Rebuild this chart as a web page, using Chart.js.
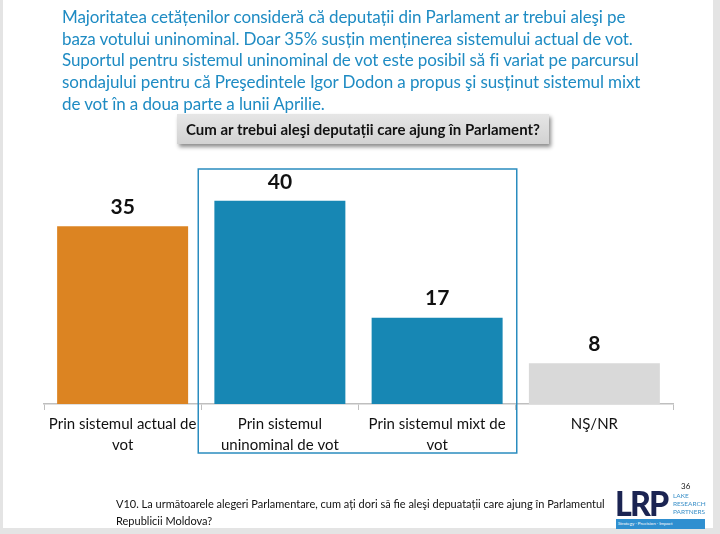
<!DOCTYPE html>
<html lang="ro">
<head>
  <meta charset="UTF-8">
  <title>Cum ar trebui aleşi deputații</title>
  <script src="https://cdn.jsdelivr.net/npm/chart.js"></script>
  <style>
    html, body { margin: 0; padding: 0; }
    body { width: 720px; height: 534px; position: relative; overflow: hidden; background: #fff; font-family: Lato, "Open Sans", sans-serif; }
    #grafic { position: absolute; left: 0; top: 0; }
    .rama-st { position: absolute; left: 0; top: 0; width: 3px; height: 534px; background: #e4e4e4; }
    .rama-dr { position: absolute; right: 0; top: 0; width: 7px; height: 534px; background: #e4e4e4; }
    .rama-jos { position: absolute; left: 0; bottom: 0; width: 720px; height: 6px; background: #e4e4e4; }
    .titlu { position: absolute; left: 62px; top: 6px; color: #1e8bc3; font-size: 17px; line-height: 21.7px; white-space: nowrap; letter-spacing: -0.1px; }
    .intrebare { position: absolute; left: 177px; top: 114px; width: 372px; height: 30px; line-height: 30px;
      background: linear-gradient(#e6e6e6, #d2d2d2); box-shadow: 2px 3px 4px rgba(0,0,0,0.45);
      text-align: center; font-weight: bold; font-size: 15px; color: #111; }
    .nota { position: absolute; left: 116px; top: 496px; font-size: 11px; line-height: 16.5px; color: #111; white-space: nowrap; }
    .pagina { position: absolute; left: 681px; top: 481px; font-size: 8px; color: #222; }
    .lrp { position: absolute; left: 615px; top: 485px; font-size: 35px; font-weight: 900; color: #1b2452; letter-spacing: -2px; line-height: 35px;
      transform: scaleX(0.92); transform-origin: left top; }
    .lrp-txt { position: absolute; left: 673px; top: 492px; font-size: 6.5px; line-height: 8px; color: #3a8fc8; }
    .banda { position: absolute; left: 616px; top: 519px; width: 87px; height: 10px; background: #2f8fd0; color: #fff; font-size: 4.5px; line-height: 10px; padding-left: 2px; }
  </style>
</head>
<body>
  <canvas id="grafic" width="720" height="534"></canvas>
  <div class="rama-st"></div><div class="rama-dr"></div><div class="rama-jos"></div>
  <div class="titlu">
    Majoritatea cetățenilor consideră că deputații din Parlament ar trebui aleşi pe<br>
    baza votului uninominal. Doar 35% susțin menținerea sistemului actual de vot.<br>
    Suportul pentru sistemul uninominal de vot este posibil să fi variat pe parcursul<br>
    sondajului pentru că Preşedintele Igor Dodon a propus şi susținut sistemul mixt<br>
    de vot în a doua parte a lunii Aprilie.
  </div>
  <div class="intrebare">Cum ar trebui aleşi deputații care ajung în Parlament?</div>
  <div class="nota">V10. La următoarele alegeri Parlamentare, cum ați dori să fie aleşi depuatații care ajung în Parlamentul<br>Republicii Moldova?</div>
  <div class="pagina">36</div>
  <div class="lrp">LRP</div>
  <div class="lrp-txt">LAKE<br>RESEARCH<br>PARTNERS</div>
  <div class="banda">Strategy · Precision · Impact</div>

  <script>
    const categorii = [
      ['Prin sistemul actual de', 'vot'],
      ['Prin sistemul', 'uninominal de vot'],
      ['Prin sistemul mixt de', 'vot'],
      'NŞ/NR'
    ];
    const valori = [35, 40, 17, 8];
    const culori = ['#dc8422', '#1787b4', '#1787b4', '#d9d9d9'];

    // etichete cu valori deasupra barelor
    const eticheteValori = {
      id: 'eticheteValori',
      afterDatasetsDraw(chart) {
        const ctx = chart.ctx;
        ctx.save();
        ctx.font = 'bold 21px Lato, sans-serif';
        ctx.fillStyle = '#111';
        ctx.textAlign = 'center';
        ctx.textBaseline = 'middle';
        chart.getDatasetMeta(0).data.forEach((bar, i) => {
          ctx.fillText(valori[i], bar.x, bar.y - 19);
        });
        ctx.restore();
      }
    };

    // chenarul albastru in jurul variantelor 2 si 3
    const chenar = {
      id: 'chenar',
      afterDraw(chart) {
        const x = chart.scales.x;
        const area = chart.chartArea;
        const pas = x.getPixelForValue(1) - x.getPixelForValue(0);
        const st = x.getPixelForValue(1) - pas / 2 - 3;
        const dr = x.getPixelForValue(2) + pas / 2 + 1;
        const ctx = chart.ctx;
        ctx.save();
        ctx.strokeStyle = '#2a8cbf';
        ctx.lineWidth = 1.5;
        ctx.strokeRect(st, area.top + 19, dr - st, area.bottom - area.top + 30);
        ctx.restore();
      }
    };

    new Chart(document.getElementById('grafic').getContext('2d'), {
      type: 'bar',
      data: {
        labels: categorii,
        datasets: [{
          data: valori,
          backgroundColor: culori,
          borderWidth: 0,
          barPercentage: 0.833,
          categoryPercentage: 1
        }]
      },
      options: {
        responsive: false,
        animation: false,
        layout: { padding: { left: 44, right: 47, top: 150, bottom: 70 } },
        plugins: { legend: { display: false }, tooltip: { enabled: false } },
        scales: {
          y: { display: false, min: 0, max: 50 },
          x: {
            afterFit(scale) { scale.height = 60; },
            border: { color: '#bfbfbf', width: 1.5 },
            grid: { drawOnChartArea: false, color: '#bfbfbf', tickLength: 6, offset: true },
            ticks: { color: '#111', font: { family: 'Lato', size: 15, lineHeight: 1.4 }, padding: 4, maxRotation: 0, autoSkip: false }
          }
        }
      },
      plugins: [eticheteValori, chenar]
    });
  </script>
</body>
</html>
